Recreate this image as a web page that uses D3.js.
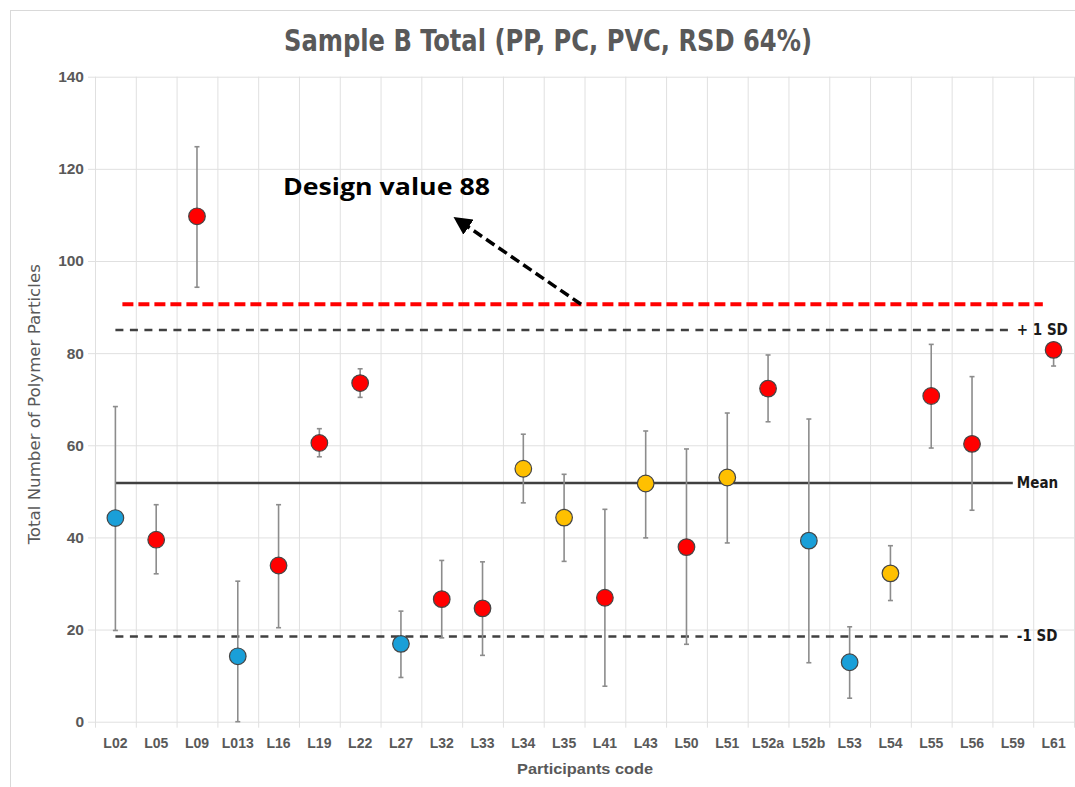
<!DOCTYPE html>
<html>
<head>
<meta charset="utf-8">
<script src="https://cdn.jsdelivr.net/npm/d3@7"></script>
<style>
  body { margin: 0; background: #fff; }
  svg { display: block; }
</style>
</head>
<body>
<div id="chart"></div>
<script>
// participants and their results
const codes = ["L02", "L05", "L09", "L013", "L16", "L19", "L22", "L27", "L32", "L33", "L34", "L35",
               "L41", "L43", "L50", "L51", "L52a", "L52b", "L53", "L54", "L55", "L56", "L59", "L61"];
const values = [44.2, 39.5, 109.7, 14.2, 33.9, 60.5, 73.5, 16.9, 26.6, 24.6, 54.9, 44.3,
                26.9, 51.7, 37.9, 53.0, 72.3, 39.3, 12.9, 32.2, 70.7, 60.3, null, 80.7];
const errLow = [19.8, 32.1, 94.3, 0, 20.4, 57.5, 70.4, 9.6, 18.2, 14.4, 47.5, 34.8,
                7.7, 39.9, 16.8, 38.8, 65.1, 12.8, 5.1, 26.3, 59.4, 45.9, null, 77.2];
const errHigh = [68.4, 47.1, 124.8, 30.5, 47.1, 63.6, 76.6, 24.0, 35.0, 34.7, 62.4, 53.7,
                 46.1, 63.1, 59.2, 67.0, 79.6, 65.7, 20.6, 38.2, 81.9, 74.9, null, 82.0];
// group per point: b = blue, r = red, y = yellow
const groups = ["b", "r", "r", "b", "r", "r", "r", "b", "r", "r", "y", "y",
                "r", "y", "r", "y", "r", "b", "b", "y", "r", "r", null, "r"];
const yTicks = [0, 20, 40, 60, 80, 100, 120, 140];

// reference lines
const meanValue = 51.8;
const plusSD = 85.0;
const minusSD = 18.5;
const designLine = 90.6;

const colors = { b: "#1a9fd8", r: "#ff0000", y: "#ffc000" };

const width = 1075, height = 787;
const plotLeft = 95, plotRight = 1074, plotTop = 76.7, plotBottom = 721.7;

const svg = d3.select("#chart").append("svg")
  .attr("width", width)
  .attr("height", height)
  .style("font-family", "'Liberation Sans', Arial, sans-serif");

// chart border
svg.append("rect")
  .attr("x", 10.5).attr("y", 10.5)
  .attr("width", width + 20).attr("height", height + 20)
  .attr("fill", "none").attr("stroke", "#d9d9d9");

const x = d3.scaleBand().domain(codes).range([plotLeft, plotRight]);
const y = d3.scaleLinear().domain([0, 140]).range([plotBottom, plotTop]);
const cx = d => x(d) + x.bandwidth() / 2;

// horizontal grid + y axis
const yAxis = d3.axisLeft(y).tickValues(yTicks).tickSize(-(plotRight - plotLeft)).tickPadding(11);
const gy = svg.append("g").attr("transform", "translate(" + plotLeft + ",0)").call(yAxis);
gy.select(".domain").remove();
gy.selectAll(".tick line").attr("stroke", "#e0e0e0").attr("x1", -7);
gy.selectAll(".tick text")
  .attr("fill", "#595959")
  .style("font-size", "15.5px")
  .style("font-weight", "bold");

// vertical grid at band edges
const edges = codes.map(c => x(c)).concat([plotRight]);
svg.append("g").selectAll("line")
  .data(edges)
  .enter().append("line")
  .attr("x1", d => d + 0.5).attr("x2", d => d + 0.5)
  .attr("y1", plotTop).attr("y2", plotBottom + 6)
  .attr("stroke", "#e0e0e0");

// x axis labels
const xAxis = d3.axisBottom(x).tickSize(0).tickPadding(16);
const gx = svg.append("g").attr("transform", "translate(0," + plotBottom + ")").call(xAxis);
gx.select(".domain").remove();
gx.selectAll(".tick text")
  .attr("fill", "#595959")
  .style("font-size", "14px")
  .style("font-weight", "bold");

// reference lines
const lineStart = cx("L02"), lineEnd = cx("L59");
svg.append("line")
  .attr("x1", lineStart + 7).attr("x2", lineEnd + 30)
  .attr("y1", y(designLine)).attr("y2", y(designLine))
  .attr("stroke", "#ff0000").attr("stroke-width", 4)
  .attr("stroke-dasharray", "11,5");

[[plusSD, "8,6.5", "+ 1 SD"], [minusSD, "8,6.5", "-1 SD"], [meanValue, null, "Mean"]].forEach(r => {
  svg.append("line")
    .attr("x1", lineStart).attr("x2", lineEnd)
    .attr("y1", y(r[0])).attr("y2", y(r[0]))
    .attr("stroke", "#404040").attr("stroke-width", 2.5)
    .attr("stroke-dasharray", r[1]);
  svg.append("text")
    .attr("x", lineEnd + 4).attr("y", y(r[0]) + 5)
    .attr("fill", "#1a1a1a")
    .style("font-family", "'Liberation Sans Narrow', 'DejaVu Sans Condensed', sans-serif")
    .style("font-size", "15px").style("font-weight", "bold")
    .text(r[2]);
});

// error bars
const pts = codes.map((c, i) => ({ code: c, v: values[i], lo: errLow[i], hi: errHigh[i], g: groups[i] }))
  .filter(d => d.v !== null);

const eb = svg.append("g").attr("stroke", "#8c8c8c").attr("stroke-width", 1.6);
pts.forEach(d => {
  eb.append("line").attr("x1", cx(d.code)).attr("x2", cx(d.code))
    .attr("y1", y(d.lo)).attr("y2", y(d.hi));
  [d.lo, d.hi].forEach(v => {
    eb.append("line").attr("x1", cx(d.code) - 2.5).attr("x2", cx(d.code) + 2.5)
      .attr("y1", y(v)).attr("y2", y(v));
  });
});

// points
svg.append("g").selectAll("circle")
  .data(pts)
  .enter().append("circle")
  .attr("cx", d => cx(d.code))
  .attr("cy", d => y(d.v))
  .attr("r", 8.3)
  .attr("fill", d => colors[d.g])
  .attr("stroke", "#454545")
  .attr("stroke-width", 1.2);

// design value annotation
svg.append("defs").append("marker")
  .attr("id", "arrow")
  .attr("viewBox", "0 0 10 10")
  .attr("refX", 7).attr("refY", 5)
  .attr("markerWidth", 5.2).attr("markerHeight", 5.2)
  .attr("orient", "auto")
  .append("path").attr("d", "M0,0 L10,5 L0,10 Z").attr("fill", "#000");

svg.append("line")
  .attr("x1", 581).attr("y1", y(designLine))
  .attr("x2", 458).attr("y2", 220)
  .attr("stroke", "#000").attr("stroke-width", 3.5)
  .attr("stroke-dasharray", "10,5")
  .attr("marker-end", "url(#arrow)");

svg.append("text")
  .attr("x", 283).attr("y", 195)
  .attr("fill", "#000")
  .style("font-family", "'Open Sans', 'Noto Sans', sans-serif")
  .style("font-size", "23px").style("font-weight", "bold")
  .attr("textLength", 207).attr("lengthAdjust", "spacingAndGlyphs")
  .text("Design value 88");

// title
svg.append("text")
  .attr("x", 548).attr("y", 51)
  .attr("text-anchor", "middle")
  .attr("fill", "#595959")
  .style("font-family", "'Liberation Sans Narrow', 'DejaVu Sans Condensed', sans-serif")
  .style("font-size", "30px").style("font-weight", "bold")
  .attr("textLength", 528).attr("lengthAdjust", "spacingAndGlyphs")
  .text("Sample B Total (PP, PC, PVC, RSD 64%)");

// axis titles
svg.append("text")
  .attr("transform", "translate(40," + ((plotTop + plotBottom) / 2 + 5) + ") rotate(-90)")
  .attr("text-anchor", "middle")
  .attr("fill", "#595959")
  .style("font-family", "'Liberation Sans Narrow', 'DejaVu Sans Condensed', sans-serif")
  .style("font-size", "15px")
  .attr("textLength", 280).attr("lengthAdjust", "spacingAndGlyphs")
  .text("Total Number of Polymer Particles");

svg.append("text")
  .attr("x", 585).attr("y", 774)
  .attr("text-anchor", "middle")
  .attr("fill", "#595959")
  .style("font-size", "15px").style("font-weight", "bold")
  .attr("textLength", 136).attr("lengthAdjust", "spacingAndGlyphs")
  .text("Participants code");
</script>
</body>
</html>
